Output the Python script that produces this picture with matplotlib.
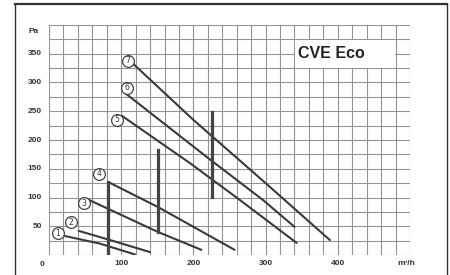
"""Fan pressure/airflow curves for the CVE Eco unit (speeds 1-7)."""

import matplotlib

matplotlib.use("Agg")
import matplotlib.pyplot as plt
from matplotlib.lines import Line2D
from matplotlib.patches import Rectangle

# Curve points (airflow m3/h, pressure Pa)
speed_labels = ["1", "2", "3", "4", "5", "6", "7"]
curve_flow = [
    [22, 70, 119],
    [41, 90, 140],
    [55, 151, 211],
    [82, 150, 210, 257],
    [101, 195, 264, 343],
    [105, 220, 296, 340],
    [117, 200, 300, 389],
]
curve_pa = [
    [33, 20, 1],
    [42, 24, 5],
    [96, 40, 9],
    [127, 84, 42, 9],
    [242, 160, 96, 21],
    [282, 169, 96, 49],
    [332, 235, 125, 26],
]
label_flow = [12, 30, 48, 69, 94, 108, 109]
label_pa = [38, 57, 90, 141, 235, 291, 338]

# Thick vertical bars (flow, bottom Pa, top Pa)
bar_flow = [82, 151, 226]
bar_low = [0, 40, 101]
bar_high = [127, 183, 249]

x_ticks = [100, 200, 300, 400]
y_ticks = [50, 100, 150, 200, 250, 300, 350]
title = "CVE Eco"

W, H = 450, 275
fig = plt.figure(figsize=(W / 100, H / 100), dpi=100)
ax = fig.add_axes([49 / W, 20 / H, 361 / W, 230 / H])
ax.set_xlim(0, 500)
ax.set_ylim(0, 400)

grid_col = "#939393"
for gx in range(0, 501, 20):
    ax.axvline(gx, color=grid_col, lw=0.8, zorder=1)
for gy in range(0, 401, 25):
    ax.axhline(gy, color=grid_col, lw=0.8, zorder=1)
for s in ax.spines.values():
    s.set_visible(False)
ax.set_xticks([])
ax.set_yticks([])

# white panel behind the title
ax.add_patch(Rectangle((340.8, 325.8), 138.4, 48.4, facecolor="white",
                       edgecolor="none", zorder=2))
ax.text(345, 350, title, fontsize=11.5, fontweight="bold",
        family="Liberation Sans", color="#222", va="center", ha="left", zorder=3)

line_col = "#3a3a3a"
for xs, ys in zip(curve_flow, curve_pa):
    ax.plot(xs, ys, color=line_col, lw=1.5, solid_capstyle="round", zorder=4)

for bx, lo, hi in zip(bar_flow, bar_low, bar_high):
    ax.plot([bx, bx], [lo, hi], color="#444", lw=2.3, zorder=5)

for lab, lx, ly in zip(speed_labels, label_flow, label_pa):
    ax.plot(lx, ly, "o", ms=8.5, mfc="white", mec="#444", mew=0.9, zorder=6)
    ax.text(lx, ly, lab, fontsize=5.5, ha="center", va="center",
            color="#333", zorder=7)

tick_kw = dict(fontsize=6, fontweight="bold", color="#333",
               family="Liberation Sans")
for t in y_ticks:
    ax.text(-10, t, str(t), ha="right", va="center", clip_on=False, **tick_kw)
ax.text(-14, 388, "Pa", ha="right", va="center", clip_on=False, **tick_kw)
for t in x_ticks:
    ax.text(t, -14, str(t), ha="center", va="center", clip_on=False, **tick_kw)
ax.text(-10, -16, "0", ha="center", va="center", clip_on=False, **tick_kw)
ax.text(495, -14, "m³/h", ha="center", va="center", clip_on=False, **tick_kw)

# outer frame of the original sheet
fx = lambda px: px / W
fy = lambda py: 1 - py / H
fig.add_artist(Line2D([fx(15), fx(447)], [fy(4), fy(4)], color="#333", lw=1.6))
fig.add_artist(Line2D([fx(15), fx(15)], [fy(4), 0], color="#333", lw=1.0))
fig.add_artist(Line2D([fx(447), fx(447)], [fy(4), 0], color="#333", lw=1.0))

fig.savefig("out.png", dpi=100)
